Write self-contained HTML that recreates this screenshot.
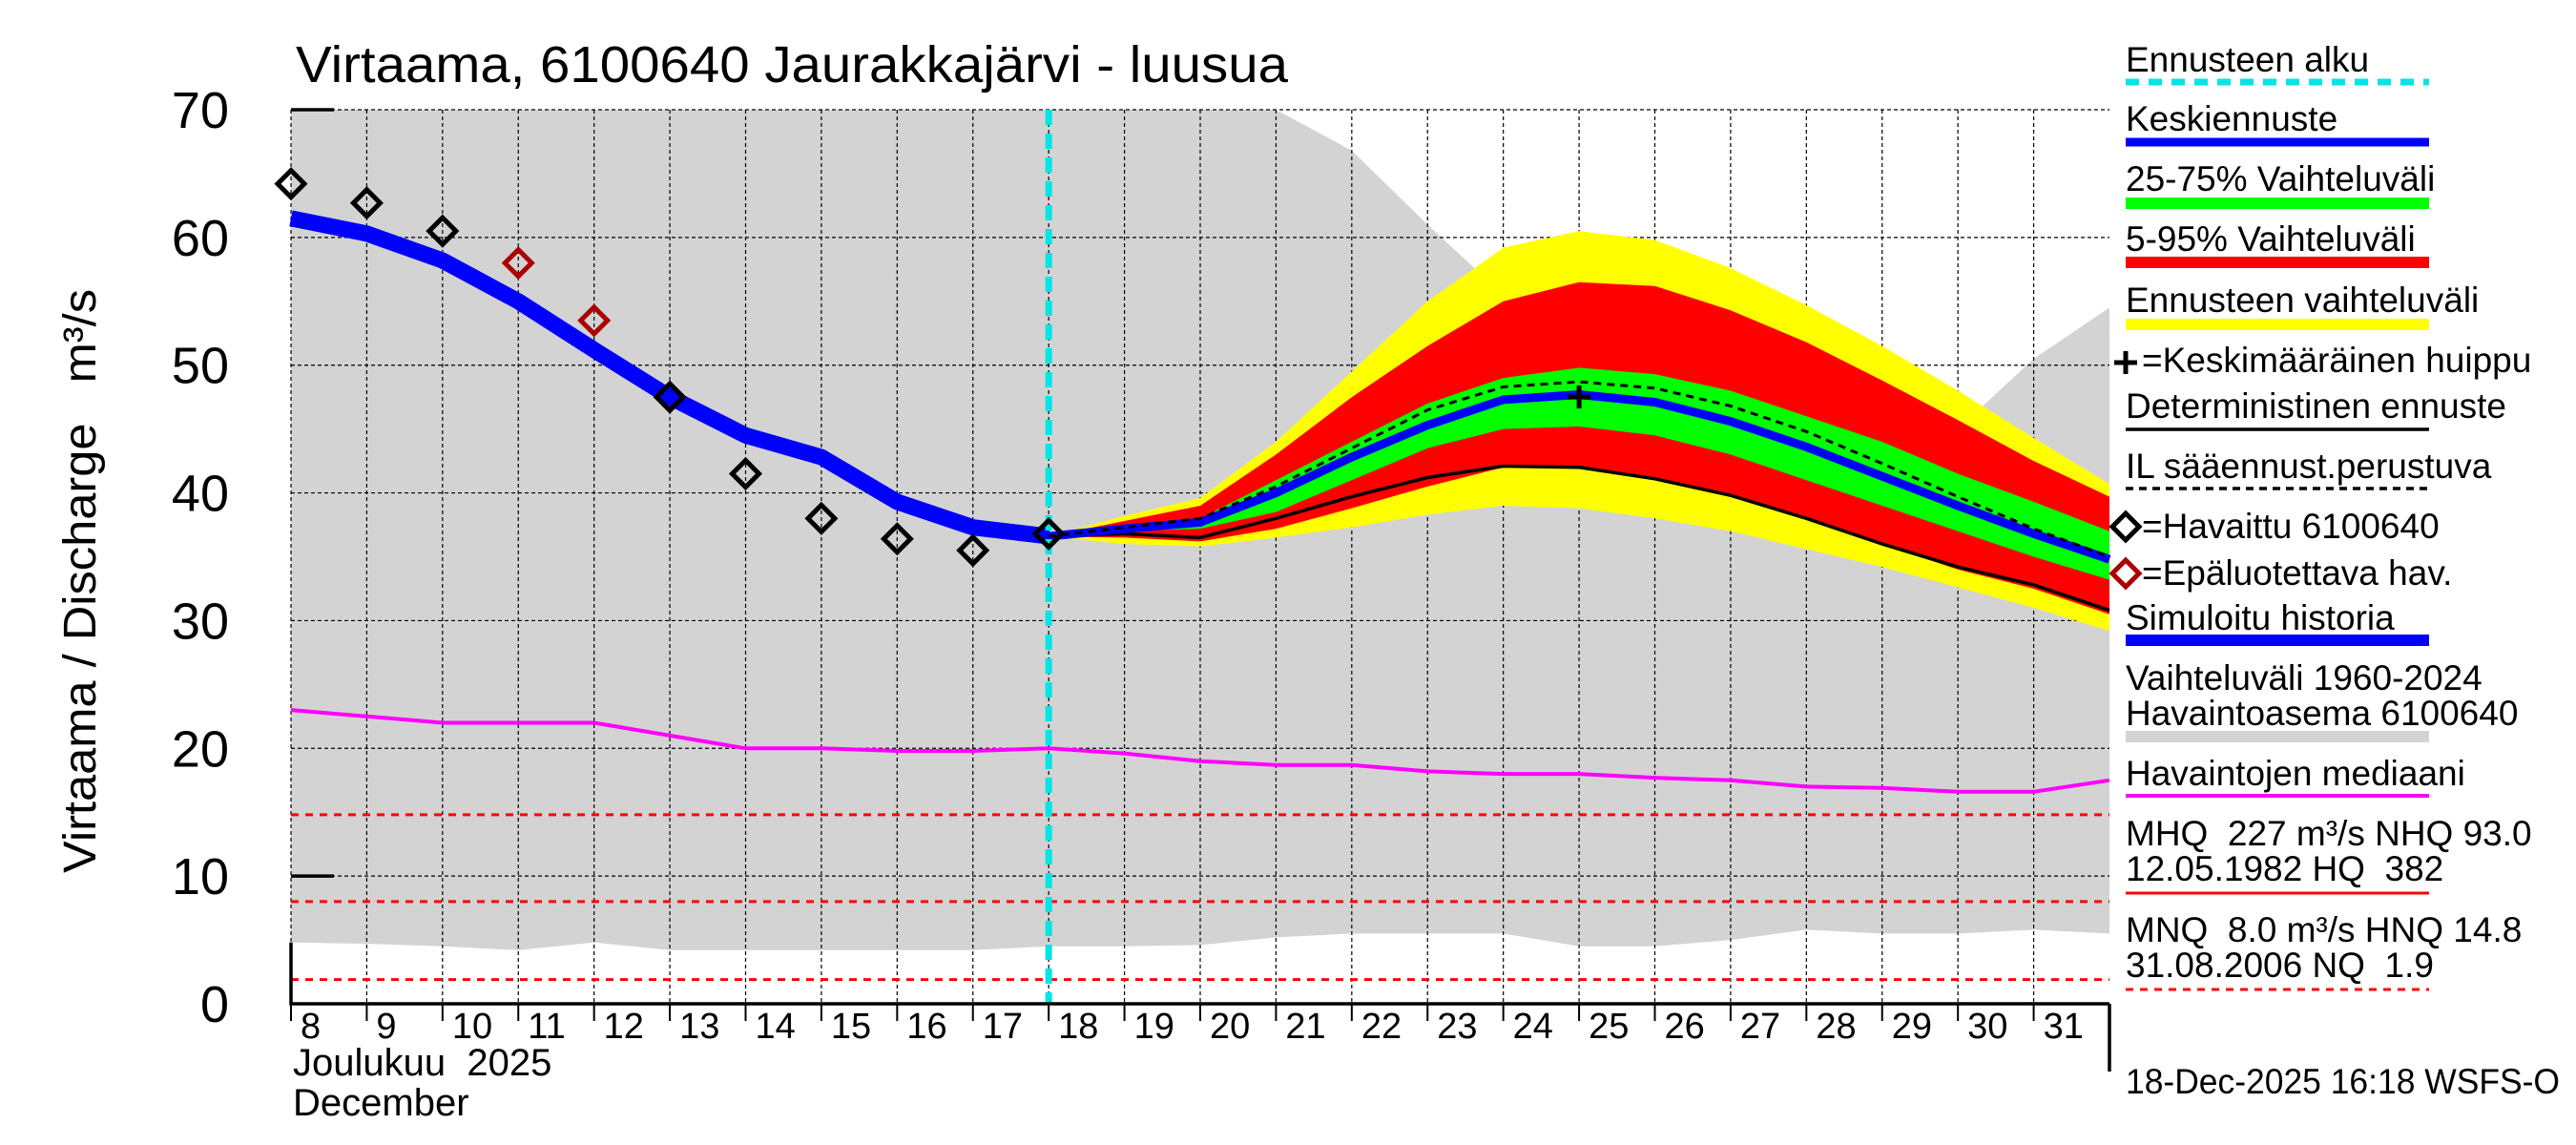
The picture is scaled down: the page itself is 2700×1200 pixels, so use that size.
<!DOCTYPE html>
<html><head><meta charset="utf-8"><style>
html,body{margin:0;padding:0;background:#fff}
svg{display:block;font-family:"Liberation Sans",sans-serif}
text{white-space:pre}
</style></head><body>
<svg id="c" width="2700" height="1200" viewBox="0 0 2700 1200" xmlns="http://www.w3.org/2000/svg" xml:space="preserve">
<g id="plot"></g>
<g id="legend"></g>
</svg>
<script>
const histDays=[8,9,10,11,12,13,14,15,16,17,18];
const simHistory=[61.5,60.3,58.2,55,51.2,47.5,44.5,42.8,39.3,37.3,36.6];
const obsDays=[8,9,10,13,14,15,16,17,18];
const obsValues=[64.2,62.7,60.5,47.5,41.5,38,36.4,35.5,36.8];
const unreliableDays=[11,12];
const unreliableValues=[58,53.5];
const fcDays=[18,19,20,21,22,23,24,25,26,27,28,29,30,31,32];
const medianFc=[36.6,37.2,37.7,40,42.8,45.3,47.3,47.7,47.1,45.6,43.6,41.3,39,36.8,34.8];
const ilFc=[36.6,37.3,38,40.5,43.5,46.5,48.3,48.7,48.2,46.8,44.8,42.3,39.7,37.2,35];
const detFc=[36.6,36.8,36.5,38,39.7,41.2,42.1,42,41.1,39.8,38,36,34.2,32.8,30.8];
const p25=[36.6,37,37.2,38.5,41,43.5,45,45.2,44.5,43,41,39,37,35,33.2];
const p75=[36.6,37.3,38,41,44,47,49,49.8,49.3,48,46,44,41.5,39.3,37];
const p5=[36.6,36.5,36.2,37.2,38.8,40.5,42,42,41.2,39.8,38,36,34,32.5,30.5];
const p95=[36.6,37.8,39,43,47.5,51.5,55,56.5,56.2,54.3,51.8,48.8,45.7,42.5,39.7];
const ensMin=[36.6,36,35.8,36.5,37.3,38.3,39,38.8,38,37,35.6,34.2,32.6,31,29.2];
const ensMax=[36.6,38.2,39.6,44,49.5,55,59.2,60.5,59.8,57.6,54.7,51.5,48,44.3,40.7];
const allDays=[8,9,10,11,12,13,14,15,16,17,18,19,20,21,22,23,24,25,26,27,28,29,30,31,32];
const histMax=[75,75,75,75,75,75,75,75,75,75,75,75,75,75,66.8,61,55.5,50,51,52,51,49,45,50.5,54.5];
const histMin=[4.8,4.7,4.5,4.2,4.8,4.2,4.2,4.2,4.2,4.2,4.5,4.5,4.6,5.2,5.5,5.5,5.5,4.5,4.5,5,5.8,5.5,5.5,5.8,5.5];
const medianObs=[23,22.5,22,22,22,21,20,20,19.8,19.8,20,19.6,19,18.7,18.7,18.2,18,18,17.7,17.5,17,16.9,16.6,16.6,17.5];
const refLevels=[14.8,8.0,1.9];
const yTicks=[0,10,20,30,40,50,60,70];
const dayLabels=["8","9","10","11","12","13","14","15","16","17","18","19","20","21","22","23","24","25","26","27","28","29","30","31"];
const peakDay=25, peakValue=47.5, forecastStart=18;

const X0=305,X1=2211,Y0=1052,Y70=115;
const xs=d=>X0+(d-8)*(X1-X0)/24;
const ys=v=>Y0-v*(Y0-Y70)/70;
const NS="http://www.w3.org/2000/svg";
const plot=document.getElementById('plot');
const leg=document.getElementById('legend');
function mk(tag,attrs,parent){const e=document.createElementNS(NS,tag);for(const k in attrs)e.setAttribute(k,attrs[k]);(parent||plot).appendChild(e);return e;}
function pts(days,vals){return days.map((d,i)=>xs(d).toFixed(1)+','+ys(Math.min(vals[i],70)).toFixed(1)).join(' ');}
function band(days,lo,hi){return pts(days,hi)+' '+pts(days.slice().reverse(),lo.slice().reverse());}

const cp=mk('clipPath',{id:'pc'});mk('rect',{x:X0,y:Y70,width:X1-X0,height:Y0-Y70},cp);
let g=mk('polygon',{points:band(allDays,histMin,histMax),fill:'#d3d3d3','clip-path':'url(#pc)'});


let gl=mk('polyline',{points:pts(allDays.slice(16,23),histMax.slice(16,23)),fill:'none',stroke:'#e6e6e6','stroke-width':5});



for(let d=8;d<=31;d++){let l=mk('line',{x1:xs(d),x2:xs(d),y1:Y70,y2:Y0,stroke:'#000','stroke-width':1.2,'stroke-dasharray':'4,3'});

}
yTicks.forEach(v=>{if(v===0)return;let l=mk('line',{x1:X0,x2:X1,y1:ys(v),y2:ys(v),stroke:'#000','stroke-width':1.2,'stroke-dasharray':'4,3'});

});

let b;
b=mk('polygon',{points:band(fcDays,ensMin,ensMax),fill:'#ffff00'});


b=mk('polygon',{points:band(fcDays,p5,p95),fill:'#ff0000'});


b=mk('polygon',{points:band(fcDays,p25,p75),fill:'#00ff00'});



let m=mk('polyline',{points:pts(allDays,medianObs),fill:'none',stroke:'#ff00ff','stroke-width':4});



refLevels.forEach(v=>{let l=mk('line',{x1:X0,x2:X1,y1:ys(v),y2:ys(v),stroke:'#ff0000','stroke-width':3,'stroke-dasharray':'8,7'});

});

let s=mk('polyline',{points:pts(histDays,simHistory),fill:'none',stroke:'#0000ff','stroke-width':17,'stroke-linejoin':'round'});


let dl=mk('polyline',{points:pts(fcDays,detFc),fill:'none',stroke:'#000','stroke-width':3.5});


let md=mk('polyline',{points:pts(fcDays,medianFc),fill:'none',stroke:'#0000ff','stroke-width':9});


let il=mk('polyline',{points:pts(fcDays,ilFc),fill:'none',stroke:'#000','stroke-width':3,'stroke-dasharray':'8,6'});



let fs=mk('line',{x1:xs(forecastStart),x2:xs(forecastStart),y1:Y70,y2:Y0,stroke:'#00e5e5','stroke-width':7,'stroke-dasharray':'16,9'});



function diamond(x,y,col,name,parent){let p=mk('polygon',{points:`${x},${y-14} ${x+14},${y} ${x},${y+14} ${x-14},${y}`,fill:'none',stroke:col,'stroke-width':5},parent);

return p;}
obsDays.forEach((d,i)=>diamond(xs(d),ys(obsValues[i]),'#000','observed-point'));
unreliableDays.forEach((d,i)=>diamond(xs(d),ys(unreliableValues[i]),'#aa0000','unreliable-point'));

function plus(x,y,name,parent){let p=mk('path',{d:`M${x-12},${y}H${x+12}M${x},${y-12}V${y+12}`,stroke:'#000','stroke-width':5},parent);

}
plus(xs(peakDay),ys(peakValue),'mean-peak-marker');

let ax=mk('path',{d:`M${X0},${ys(histMin[0])}V${Y0}H${X1}M${X1},${Y0}V1123M${X0},${Y70}H${X0+45}M${X0},${ys(10)}H${X0+45}`,stroke:'#000','stroke-width':3.5,fill:'none'});


for(let d=8;d<=31;d++){let t=mk('line',{x1:xs(d),x2:xs(d),y1:Y0,y2:Y0+18,stroke:'#000','stroke-width':2});

}
yTicks.forEach(v=>{let t=mk('text',{x:240,y:ys(v)+19,'font-size':54,'text-anchor':'end'});t.textContent=String(v);

});
dayLabels.forEach((lab,i)=>{let t=mk('text',{x:xs(8+i)+10,y:1088,'font-size':38});t.textContent=lab;

});
let t;
t=mk('text',{x:307,y:1127,'font-size':40});t.textContent='Joulukuu  2025';


t=mk('text',{x:307,y:1169,'font-size':40});t.textContent='December';


t=mk('text',{x:310,y:86,'font-size':54,textLength:1040,lengthAdjust:'spacingAndGlyphs'});t.textContent='Virtaama, 6100640 Jaurakkajärvi - luusua';


t=mk('text',{x:0,y:0,'font-size':48,transform:'translate(100,915) rotate(-90)',textLength:612,lengthAdjust:'spacingAndGlyphs'});t.textContent='Virtaama / Discharge   m³/s';



function ltxt(x,y,s,name){let e=mk('text',{x:x,y:y,'font-size':37},leg);e.textContent=s;

return e;}
function lline(y,col,w,dash,name){let e=mk('line',{x1:2228,x2:2546,y1:y,y2:y,stroke:col,'stroke-width':w},leg);if(dash)e.setAttribute('stroke-dasharray',dash);

}
const LX=2228;
ltxt(LX,75,'Ennusteen alku','legend-forecast-start');lline(86,'#00e5e5',7,'14,10','legend-forecast-start-swatch');
ltxt(LX,137,'Keskiennuste','legend-median');lline(149,'#0000ff',9,null,'legend-median-swatch');
ltxt(LX,200,'25-75% Vaihteluväli','legend-p25-75');lline(213,'#00ff00',12,null,'legend-p25-75-swatch');
ltxt(LX,263,'5-95% Vaihteluväli','legend-p5-95');lline(275,'#ff0000',12,null,'legend-p5-95-swatch');
ltxt(LX,327,'Ennusteen vaihteluväli','legend-ensemble');lline(340,'#ffff00',12,null,'legend-ensemble-swatch');
plus(2228,380,'legend-peak-marker',leg);ltxt(2245,390,'=Keskimääräinen huippu','legend-peak');
ltxt(LX,438,'Deterministinen ennuste','legend-deterministic');lline(450,'#000',3.5,null,'legend-deterministic-swatch');
ltxt(LX,501,'IL sääennust.perustuva','legend-il');lline(512,'#000',3.5,'8,6','legend-il-swatch');
diamond(2228,552,'#000','legend-observed-marker',leg);ltxt(2245,564,'=Havaittu 6100640','legend-observed');
diamond(2228,601,'#aa0000','legend-unreliable-marker',leg);ltxt(2245,613,'=Epäluotettava hav.','legend-unreliable');
ltxt(LX,660,'Simuloitu historia','legend-sim-history');lline(671,'#0000ff',12,null,'legend-sim-history-swatch');
ltxt(LX,723,'Vaihteluväli 1960-2024','legend-hist-range');ltxt(LX,760,'Havaintoasema 6100640','legend-hist-station');lline(772,'#d3d3d3',12,null,'legend-hist-range-swatch');
ltxt(LX,823,'Havaintojen mediaani','legend-obs-median');lline(834,'#ff00ff',4,null,'legend-obs-median-swatch');
ltxt(LX,886,'MHQ  227 m³/s NHQ 93.0','legend-mhq');ltxt(LX,923,'12.05.1982 HQ  382','legend-hq');lline(936,'#ff0000',3,null,'legend-hq-swatch');
ltxt(LX,987,'MNQ  8.0 m³/s HNQ 14.8','legend-mnq');ltxt(LX,1024,'31.08.2006 NQ  1.9','legend-nq');lline(1037,'#ff0000',3,'8,7','legend-nq-swatch');
let ts=ltxt(LX,1146,'18-Dec-2025 16:18 WSFS-O','timestamp');
ts.setAttribute('textLength','455');
ts.setAttribute('lengthAdjust','spacingAndGlyphs');
</script>
</body></html>
